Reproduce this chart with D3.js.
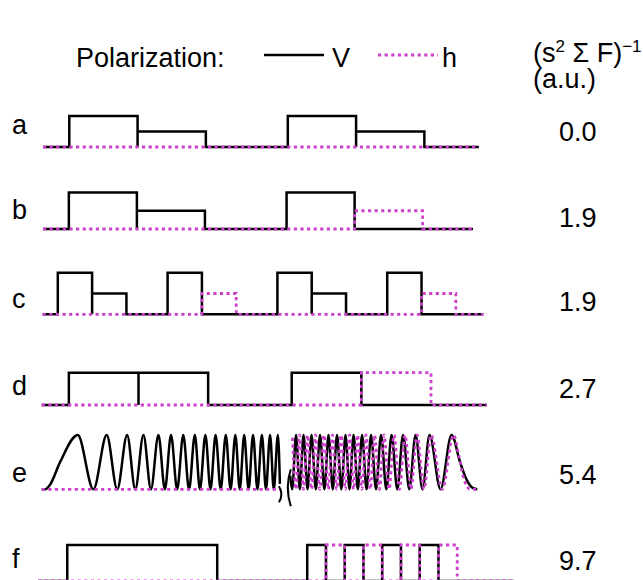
<!DOCTYPE html>
<html>
<head>
<meta charset="utf-8">
<script src="https://cdn.jsdelivr.net/npm/d3@7"></script>
<style>
  body { margin: 0; background: #fff; }
  text { font-family: "Liberation Sans", Arial, sans-serif; fill: #000; }
</style>
</head>
<body>
<div id="chart"></div>
<script>
// row labels and the (s^2 sum F)^-1 values on the right
var rowLabels = ["a", "b", "c", "d", "e", "f"];
var invValues = ["0.0", "1.9", "1.9", "2.7", "5.4", "9.7"];
var legendLabels = ["V", "h"];

// pulses: [start, end, level]  (time in arbitrary units)
var pulsesA_V = [[0, 10, 1], [10, 20, 0.5], [32, 42, 1], [42, 52, 0.5]];
var pulsesA_h = [];
var pulsesB_V = [[0, 10, 1], [10, 20, 0.5], [32, 42, 1]];
var pulsesB_h = [[42, 52, 0.5]];
var pulsesC_V = [[0, 5, 1], [5, 10, 0.5], [16, 21, 1], [32, 37, 1], [37, 42, 0.5], [48, 53, 1]];
var pulsesC_h = [[21, 26, 0.5], [53, 58, 0.5]];
var pulsesD_V = [[0, 10, 1], [10, 20, 1], [32, 42, 1]];
var pulsesD_h = [[42, 52, 1]];
var pulsesF_V = [[0, 8, 1], [12.8, 13.8, 1], [14.8, 15.8, 1], [16.8, 17.8, 1], [18.8, 19.8, 1]];
var pulsesF_h = [[13.8, 14.8, 1], [15.8, 16.8, 1], [17.8, 18.8, 1], [19.8, 20.8, 1]];

// chirp (row e): [time, amplitude] read at the extrema of the trace
var chirpV1 = [[-4, 0], [-3.5, 0], [-2.8, 0.08], [-1.3, 0.5], [1.3, 1], [3.6, 0], [5.55, 1], [7.1, 0],
  [8.55, 1], [9.75, 0], [10.95, 1], [12.05, 0], [13.15, 1], [14.1, 0], [15.0, 1], [15.9, 0],
  [16.8, 1], [17.65, 0], [18.5, 1], [19.25, 0], [20.05, 1], [20.8, 0], [21.55, 1], [22.3, 0],
  [23.05, 1], [23.75, 0], [24.45, 1], [25.1, 0], [25.75, 1], [26.4, 0], [27.05, 1], [27.7, 0],
  [28.35, 1], [28.95, 0], [29.55, 1], [30.1, 0], [30.7, 1], [31.0, 0.1]];
var chirpH1 = [[-4, 0], [31.0, 0]];
var chirpV2 = [[32.5, 0.25], [32.8, 0], [33.37, 1], [33.93, 0], [34.47, 1], [35.06, 0], [35.64, 1],
  [36.28, 0], [36.89, 1], [37.53, 0], [38.14, 1], [38.77, 0], [39.39, 1], [40.02, 0], [40.64, 1],
  [41.23, 0], [41.82, 1], [42.45, 0], [43.07, 1], [43.73, 0], [44.39, 1], [45.12, 0], [45.86, 1],
  [46.64, 0], [47.4, 1], [48.25, 0], [49.09, 1], [50.01, 0], [50.93, 1], [51.95, 0], [52.98, 1],
  [54.6, 0], [56.22, 1], [57.47, 0.5], [58.35, 0.2], [59.38, 0.02], [60, 0]];
var chirpH2 = [[32.85, 0.95], [33.37, 0], [33.88, 1], [34.47, 0], [35.06, 1], [35.64, 0], [36.23, 1],
  [36.86, 0], [37.48, 1], [38.11, 0], [38.73, 1], [39.36, 0], [39.98, 1], [40.61, 0], [41.23, 1],
  [41.82, 0], [42.4, 1], [43.04, 0], [43.65, 1], [44.28, 0], [44.9, 1], [45.61, 0], [46.3, 1],
  [47.03, 0], [47.77, 1], [48.57, 0], [49.38, 1], [50.26, 0], [51.15, 1], [52.17, 0], [53.2, 1],
  [54.86, 0], [56.51, 1], [57.32, 0.6], [57.9, 0.25], [58.49, 0.05], [58.93, 0], [60, 0]];
var chirpBreaks = [31.0, 32.45];

// layout of each trace panel
var rows = [
  {x0: 43, x1: 479, dom: [-3.85, 60], base: 147, h: 31, V: pulsesA_V, H: pulsesA_h},
  {x0: 43, x1: 473, dom: [-3.8, 59.4], base: 229, h: 36.5, V: pulsesB_V, H: pulsesB_h},
  {x0: 42.7, x1: 483.3, dom: [-2.2, 62], base: 314.3, h: 41.6, V: pulsesC_V, H: pulsesC_h},
  {x0: 41.7, x1: 486.7, dom: [-3.9, 60], base: 405, h: 32.3, V: pulsesD_V, H: pulsesD_h},
  {x0: 41.7, x1: 477.3, dom: [-4, 60], base: 489.3, h: 54.3, chirp: true},
  {x0: 38, x1: 514, dom: [-1.56, 23.83], base: 581, h: 36, V: pulsesF_V, H: pulsesF_h}
];
var labelY = [134, 219, 308, 395, 482, 568];
var valueY = [141, 227, 311, 398, 484, 570];

var pink = "#cc40cc";

var svg = d3.select("#chart")
    .append("svg")
    .attr("width", 643)
    .attr("height", 580);

// turn pulses into a step path
function steps(pulses, dom) {
    var pts = [[dom[0], 0]];
    pulses.forEach(function(p) {
        pts.push([p[0], 0], [p[0], p[2]], [p[1], p[2]], [p[1], 0]);
    });
    pts.push([dom[1], 0]);
    return pts;
}

function styleV(sel) {
    sel.attr("fill", "none").attr("stroke", "#000").attr("stroke-width", 2.5)
       .attr("stroke-linejoin", "miter");
}
function styleH(sel) {
    sel.attr("fill", "none").attr("stroke", pink).attr("stroke-width", 2.8)
       .attr("stroke-dasharray", "3.2,3.4");
}

rows.forEach(function(r, i) {
    var x = d3.scaleLinear().domain(r.dom).range([r.x0, r.x1]);
    var y = d3.scaleLinear().domain([0, 1]).range([r.base, r.base - r.h]);
    var g = svg.append("g");

    if (r.chirp) {
        var smooth = d3.line()
            .x(function(d) { return x(d[0]); })
            .y(function(d) { return y(d[1]); })
            .curve(d3.curveMonotoneX);
        g.append("path").attr("d", smooth(chirpV1)).call(styleV);
        g.append("path").attr("d", smooth(chirpV2)).call(styleV);
        g.append("path").attr("d", smooth(chirpH1)).call(styleH);
        g.append("path").attr("d", smooth(chirpH2)).call(styleH);
        // axis break marks
        chirpBreaks.forEach(function(t, k) {
            var p = d3.path(), bx = x(t);
            if (k == 0) {
                p.moveTo(bx - 1, r.base - 3);
                p.quadraticCurveTo(bx + 4, r.base + 5, bx - 1, r.base + 13);
            } else {
                p.moveTo(bx + 1, r.base - 20);
                p.quadraticCurveTo(bx - 5, r.base - 2, bx + 1, r.base + 17);
            }
            g.append("path").attr("d", p.toString())
                .attr("fill", "none").attr("stroke", "#000").attr("stroke-width", 2);
        });
    } else {
        var line = d3.line()
            .x(function(d) { return x(d[0]); })
            .y(function(d) { return y(d[1]); });
        g.append("path").attr("d", line(steps(r.V, r.dom))).call(styleV);
        g.append("path").attr("d", line(steps(r.H, r.dom))).call(styleH);
    }

    svg.append("text")
        .attr("x", 12)
        .attr("y", labelY[i])
        .style("font-size", "27px")
        .text(rowLabels[i]);

    svg.append("text")
        .attr("x", 559)
        .attr("y", valueY[i])
        .style("font-size", "27px")
        .text(invValues[i]);
});

// legend
svg.append("text")
    .attr("x", 76)
    .attr("y", 67)
    .style("font-size", "27px")
    .text("Polarization:");

svg.append("line")
    .attr("x1", 264).attr("x2", 324).attr("y1", 55).attr("y2", 55)
    .call(styleV);
svg.append("text")
    .attr("x", 332).attr("y", 67)
    .style("font-size", "27px")
    .text(legendLabels[0]);

svg.append("line")
    .attr("x1", 378).attr("x2", 438).attr("y1", 55).attr("y2", 55)
    .call(styleH);
svg.append("text")
    .attr("x", 442).attr("y", 67)
    .style("font-size", "27px")
    .text(legendLabels[1]);

// column header
var head = svg.append("text")
    .attr("x", 533)
    .attr("y", 62)
    .style("font-size", "27px");
head.append("tspan").text("(s");
head.append("tspan").attr("dy", -10).style("font-size", "17px").text("2");
head.append("tspan").attr("dy", 10).text(" \u03A3 F)");
head.append("tspan").attr("dy", -10).style("font-size", "17px").text("\u22121");

svg.append("text")
    .attr("x", 533)
    .attr("y", 88)
    .style("font-size", "27px")
    .text("(a.u.)");
</script>
</body>
</html>
